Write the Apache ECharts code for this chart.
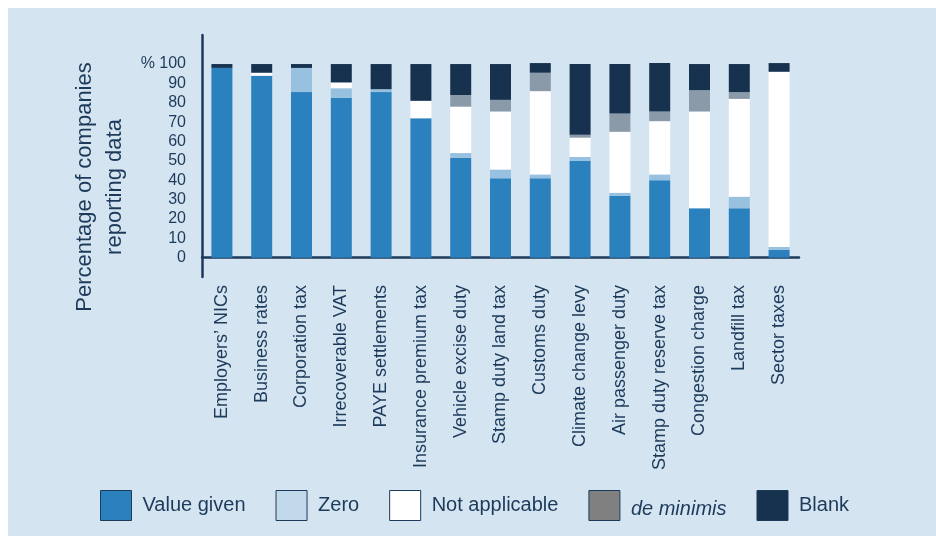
<!DOCTYPE html>
<html>
<head>
<meta charset="utf-8">
<script src="https://cdn.jsdelivr.net/npm/echarts@6/dist/echarts.min.js"></script>
<style>
  html, body { margin: 0; padding: 0; background: #ffffff; }
  #chart { position: absolute; left: 8px; top: 8px; width: 928px; height: 528px; background: #d5e4f1; }
</style>
</head>
<body>
<div id="chart"></div>
<script>
// categories (x axis)
var categories = [
  'Employers’ NICs', 'Business rates', 'Corporation tax', 'Irrecoverable VAT',
  'PAYE settlements', 'Insurance premium tax', 'Vehicle excise duty',
  'Stamp duty land tax', 'Customs duty', 'Climate change levy',
  'Air passenger duty', 'Stamp duty reserve tax', 'Congestion charge',
  'Landfill tax', 'Sector taxes'
];

// series values, % of companies
var valueGiven    = [98, 94, 85.5, 82.5, 85.5, 72, 51.5, 41, 41, 50, 32, 40, 25.5, 25.5, 4];
var zero          = [0, 0, 12.5, 5, 1.5, 0, 2.5, 4.5, 2, 2, 1.5, 3, 0, 6, 1.5];
var notApplicable = [0, 1.5, 0, 3, 0, 9, 24, 30, 43, 10, 31.5, 27.5, 50, 50.5, 90.5];
var deMinimis     = [0, 0, 0, 0, 0, 0, 6, 6, 9.5, 1.5, 9.5, 5, 11, 3.5, 0];
var blank         = [2, 4.5, 2, 9.5, 13, 19, 16, 18.5, 5, 36.5, 25.5, 25, 13.5, 14.5, 4.5];

// y tick labels shown
var yTicks = [0, 10, 20, 30, 40, 50, 60, 70, 80, 90, 100];

var navy = '#1c3a5a';
var font = 'Liberation Sans, Arial, sans-serif';

var chart = echarts.init(document.getElementById('chart'));

function bar(name, data, color) {
  return {
    name: name,
    type: 'bar',
    stack: 'total',
    barWidth: 21,
    data: data,
    itemStyle: { color: color },
    emphasis: { disabled: true }
  };
}

var option = {
  animation: false,
  textStyle: { fontFamily: font, color: navy },
  grid: { left: 194, right: 137, top: 27, bottom: 259 },
  legend: {
    left: 87,
    top: 477,
    itemWidth: 31,
    itemHeight: 30,
    itemGap: 30,
    icon: 'rect',
    textStyle: { fontSize: 20, color: navy, fontFamily: font, padding: [0, 0, 0, 6],
      rich: { it: { fontSize: 20, fontStyle: 'italic', color: navy, fontFamily: font, padding: [8, 0, 0, 0] } } },
    formatter: function (n) { return n === 'de minimis' ? '{it|de minimis}' : n; },
    itemStyle: { borderColor: navy, borderWidth: 1 },
    data: [
      { name: 'Value given', itemStyle: { color: '#2a81bd' } },
      { name: 'Zero', itemStyle: { color: '#c2d9eb' } },
      { name: 'Not applicable', itemStyle: { color: '#ffffff' } },
      { name: 'de minimis', itemStyle: { color: '#808080' } },
      { name: 'Blank', itemStyle: { color: '#17324f' } }
    ]
  },
  xAxis: {
    type: 'category',
    data: categories,
    axisLine: { onZero: true, lineStyle: { color: navy, width: 2.5 } },
    axisTick: { show: false },
    axisLabel: { rotate: 90, fontSize: 18, color: navy, margin: 8, interval: 0 }
  },
  yAxis: {
    type: 'value',
    min: -10,
    max: 115,
    interval: 10,
    axisLine: { show: true, lineStyle: { color: navy, width: 2.5 } },
    axisTick: { show: false },
    splitLine: { show: false },
    axisLabel: {
      fontSize: 16, color: navy, margin: 16,
      formatter: function (v) {
        if (yTicks.indexOf(v) < 0) return '';
        return v === 100 ? '% 100' : String(v);
      }
    }
  },
  graphic: [{
    type: 'text',
    x: 92,
    y: 179,
    rotation: Math.PI / 2,
    style: {
      text: 'Percentage of companies\nreporting data',
      font: '22px ' + font,
      fill: navy,
      textAlign: 'center',
      textVerticalAlign: 'middle',
      lineHeight: 30
    }
  }],
  series: [
    bar('Value given', valueGiven, '#2a81bd'),
    bar('Zero', zero, '#97c1df'),
    bar('Not applicable', notApplicable, '#ffffff'),
    bar('de minimis', deMinimis, '#8a9aa8'),
    bar('Blank', blank, '#17324f')
  ]
};

chart.setOption(option);
</script>
</body>
</html>
